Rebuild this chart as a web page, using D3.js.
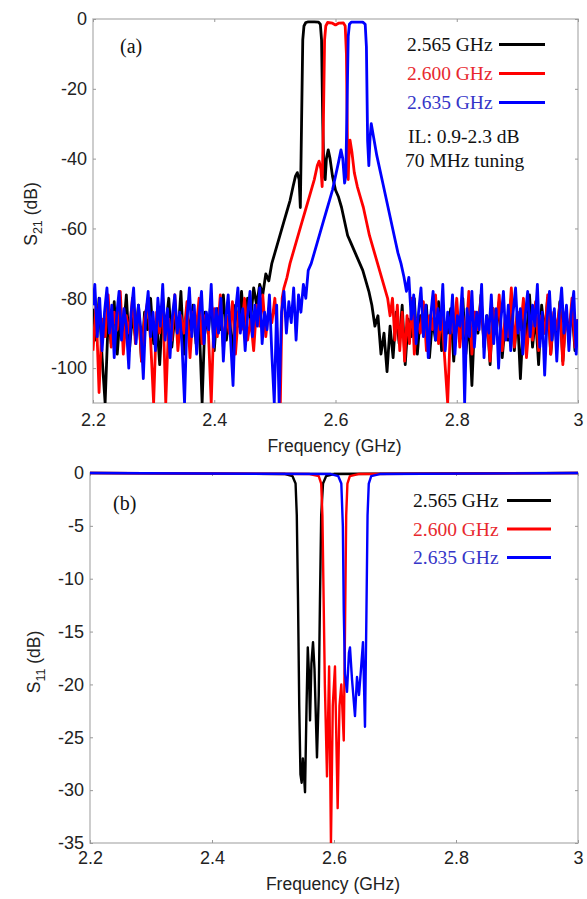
<!DOCTYPE html>
<html>
<head>
<meta charset="utf-8">
<script src="https://cdn.jsdelivr.net/npm/d3@7"></script>
<style>
  html, body { margin: 0; padding: 0; background: #fff; }
  svg { display: block; }
</style>
</head>
<body>
<svg id="chart" width="587" height="899"></svg>
<script>
// ---------------- DATA ----------------
const seriesNames = ["2.565 GHz", "2.600 GHz", "2.635 GHz"];
const xTicks = [2.2, 2.4, 2.6, 2.8, 3];
const xTickLabels = ["2.2", "2.4", "2.6", "2.8", "3"];
const yTicksS21 = [0, -20, -40, -60, -80, -100];
const yTicksS11 = [0, -5, -10, -15, -20, -25, -30, -35];
const legendNotes = ["IL: 0.9-2.3 dB", "70 MHz tuning"];

// S21 (dB) vs frequency (GHz)
const s21Black = [
[2.200,-83],[2.205,-92],[2.210,-80],[2.215,-97],[2.220,-110],[2.225,-86],[2.230,-93],[2.235,-81],[2.240,-96],[2.245,-84],
[2.250,-90],[2.255,-79],[2.260,-95],[2.265,-85],[2.270,-91],[2.275,-82],[2.280,-98],[2.285,-84],[2.290,-89],[2.295,-80],
[2.300,-93],[2.305,-86],[2.310,-99],[2.315,-83],[2.320,-88],[2.325,-80],[2.330,-94],[2.335,-85],[2.340,-91],[2.345,-78],
[2.350,-96],[2.355,-84],[2.360,-89],[2.365,-82],[2.370,-93],[2.375,-86],[2.380,-110],[2.385,-84],[2.390,-90],[2.395,-80],
[2.400,-95],[2.405,-83],[2.410,-89],[2.415,-79],[2.420,-92],[2.425,-84],[2.430,-97],[2.435,-82],[2.440,-88],[2.445,-78],
[2.450,-90],[2.455,-80],[2.460,-86],[2.465,-77],[2.470,-82],[2.475,-76],[2.480,-79],
[2.485,-73],[2.490,-75],[2.495,-70],[2.500,-67],[2.505,-64],[2.510,-61],[2.515,-58],[2.520,-55],[2.525,-52],[2.530,-48],
[2.534,-45],[2.537,-44],[2.540,-46],[2.542,-54],[2.544,-30],[2.546,-6],[2.548,-2],[2.551,-1],[2.555,-0.8],[2.565,-0.8],
[2.572,-0.9],[2.575,-1.5],[2.577,-6],[2.579,-30],[2.581,-45],[2.583,-46],[2.585,-40],[2.588,-37.5],[2.591,-40],[2.595,-45],
[2.600,-49],[2.605,-51],[2.610,-54],[2.615,-58],[2.620,-62],[2.625,-64],[2.630,-66],[2.635,-68],[2.640,-70],[2.645,-72],
[2.650,-75],[2.655,-78],[2.660,-82],[2.665,-88],[2.670,-85],[2.675,-96],[2.680,-90],[2.685,-101],[2.690,-88],[2.695,-97],
[2.700,-84],[2.705,-93],[2.710,-82],[2.715,-99],[2.720,-86],[2.725,-91],[2.730,-80],[2.735,-96],[2.740,-85],[2.745,-90],
[2.750,-82],[2.755,-97],[2.760,-86],[2.765,-92],[2.770,-81],[2.775,-95],[2.780,-87],[2.785,-90],[2.790,-83],[2.795,-98],
[2.800,-85],[2.805,-91],[2.810,-80],[2.815,-96],[2.820,-86],[2.825,-105],[2.830,-84],[2.835,-90],[2.840,-79],[2.845,-94],
[2.850,-85],[2.855,-99],[2.860,-83],[2.865,-90],[2.870,-81],[2.875,-97],[2.880,-87],[2.885,-92],[2.890,-80],[2.895,-95],
[2.900,-84],[2.905,-103],[2.910,-86],[2.915,-91],[2.920,-79],[2.925,-94],[2.930,-85],[2.935,-99],[2.940,-82],[2.945,-90],
[2.950,-80],[2.955,-96],[2.960,-86],[2.965,-92],[2.970,-81],[2.975,-98],[2.980,-84],[2.985,-90],[2.990,-83],[2.995,-95],
[3.000,-86]
];
const s21Red = [
[2.200,-95],[2.205,-82],[2.210,-107],[2.215,-86],[2.220,-91],[2.225,-79],[2.230,-94],[2.235,-84],[2.240,-89],[2.245,-78],
[2.250,-96],[2.255,-85],[2.260,-90],[2.265,-80],[2.270,-93],[2.275,-83],[2.280,-98],[2.285,-86],[2.290,-81],[2.295,-92],
[2.300,-110],[2.305,-84],[2.310,-90],[2.315,-80],[2.320,-110],[2.325,-86],[2.330,-92],[2.335,-79],[2.340,-95],[2.345,-85],
[2.350,-90],[2.355,-81],[2.360,-97],[2.365,-84],[2.370,-89],[2.375,-80],[2.380,-93],[2.385,-85],[2.390,-88],[2.395,-110],
[2.400,-83],[2.405,-91],[2.410,-79],[2.415,-94],[2.420,-85],[2.425,-90],[2.430,-81],[2.435,-96],[2.440,-84],[2.445,-89],
[2.450,-80],[2.455,-92],[2.460,-86],[2.465,-95],[2.470,-82],[2.475,-88],[2.480,-79],[2.485,-91],[2.490,-83],[2.495,-87],
[2.500,-80],[2.505,-94],[2.509,-110],[2.512,-80],
[2.515,-77],[2.520,-74],[2.525,-70],[2.530,-67],[2.535,-64],[2.540,-61],[2.545,-58],[2.550,-55],[2.555,-52],[2.560,-49],
[2.565,-46],[2.570,-42],[2.573,-40.7],[2.576,-43],[2.578,-48],[2.580,-30],[2.582,-6],[2.584,-2],[2.587,-1],[2.595,-1.2],
[2.600,-1.7],[2.605,-1.2],[2.613,-1.1],[2.616,-2],[2.618,-10],[2.620,-40],[2.621,-46],[2.622,-40],[2.624,-34.7],[2.627,-38],
[2.631,-44],[2.636,-48],[2.641,-51],[2.646,-54],[2.651,-58],[2.656,-62],[2.661,-65],[2.666,-68],[2.671,-71],[2.676,-74],
[2.681,-77],[2.686,-80],[2.690,-85],[2.694,-80],[2.698,-92],[2.702,-82],[2.706,-95],[2.710,-84],[2.714,-98],[2.718,-85],
[2.722,-93],[2.726,-80],[2.730,-96],[2.735,-86],[2.740,-90],
[2.745,-81],[2.750,-95],[2.755,-85],[2.760,-89],[2.765,-79],[2.770,-93],[2.775,-84],[2.780,-97],[2.785,-110],[2.790,-86],
[2.795,-90],[2.800,-80],[2.805,-94],[2.810,-85],[2.815,-91],[2.820,-78],[2.825,-96],[2.830,-84],[2.835,-89],[2.840,-80],
[2.845,-93],[2.850,-86],[2.855,-98],[2.860,-83],[2.865,-90],[2.870,-79],[2.875,-95],[2.880,-85],[2.885,-91],[2.890,-77],
[2.895,-94],[2.900,-84],[2.905,-89],[2.910,-80],[2.915,-97],[2.920,-86],[2.925,-92],[2.930,-81],[2.935,-95],[2.940,-85],
[2.945,-90],[2.950,-79],[2.955,-96],[2.960,-84],[2.965,-89],[2.970,-82],[2.975,-99],[2.980,-85],[2.985,-91],[2.990,-80],
[2.995,-94],[3.000,-86]
];
const s21Blue = [
[2.200,-82],[2.203,-76],[2.207,-91],[2.211,-80],[2.215,-95],[2.219,-84],[2.223,-77],[2.227,-90],[2.231,-82],[2.235,-97],
[2.239,-85],[2.243,-78],[2.247,-92],[2.251,-83],[2.255,-88],[2.259,-100],[2.263,-84],[2.267,-77],[2.271,-93],[2.275,-82],
[2.279,-89],[2.283,-103],[2.287,-85],[2.291,-78],[2.295,-91],[2.299,-84],[2.303,-95],[2.307,-80],[2.311,-88],[2.315,-76],
[2.319,-92],[2.323,-83],[2.327,-97],[2.331,-85],[2.335,-79],[2.339,-90],[2.343,-84],[2.347,-94],[2.351,-110],[2.355,-86],
[2.359,-77],[2.363,-91],[2.367,-82],[2.371,-96],[2.375,-85],[2.379,-78],[2.383,-93],[2.387,-84],[2.391,-89],[2.395,-76],
[2.399,-94],[2.403,-83],[2.407,-90],[2.411,-80],[2.415,-98],[2.419,-86],[2.423,-79],[2.427,-92],[2.431,-105],[2.435,-84],
[2.439,-77],[2.443,-90],[2.447,-83],[2.451,-95],[2.455,-85],[2.459,-78],[2.463,-91],[2.467,-82],[2.471,-88],[2.475,-77],
[2.479,-93],[2.483,-84],[2.487,-89],[2.491,-79],[2.495,-96],[2.499,-110],[2.503,-82],[2.507,-110],[2.511,-84],[2.515,-78],
[2.519,-90],[2.523,-81],[2.527,-87],[2.531,-77],[2.535,-92],[2.539,-79],[2.543,-84],[2.547,-76],[2.551,-80],
[2.555,-72],[2.560,-70],[2.565,-67],[2.570,-64],[2.575,-61],[2.580,-58],[2.585,-55],[2.590,-52],[2.595,-49],[2.600,-45],
[2.605,-41],[2.609,-37.5],[2.612,-40],[2.615,-47],[2.617,-45],[2.619,-25],[2.621,-5],[2.623,-1.5],[2.626,-0.9],[2.645,-0.9],
[2.649,-1.5],[2.651,-8],[2.653,-35],[2.655,-42],[2.657,-34],[2.659,-30],[2.663,-34],[2.668,-39],[2.673,-43],[2.678,-47],
[2.683,-51],[2.688,-55],[2.693,-59],[2.698,-63],[2.703,-67],[2.708,-70],[2.713,-74],[2.717,-78],[2.721,-74],[2.725,-86],
[2.729,-79],[2.733,-93],[2.737,-84],[2.741,-77],[2.745,-91],[2.749,-82],[2.753,-97],[2.757,-85],[2.761,-78],[2.765,-92],
[2.769,-83],[2.773,-89],[2.777,-76],[2.781,-95],[2.785,-84],[2.789,-90],[2.793,-79],[2.797,-96],[2.801,-85],[2.805,-88],
[2.809,-77],[2.813,-110],[2.817,-83],[2.821,-91],[2.825,-78],[2.829,-94],[2.833,-84],[2.837,-89],[2.841,-76],[2.845,-97],
[2.849,-85],[2.853,-90],[2.857,-79],[2.861,-93],[2.865,-83],[2.869,-100],[2.873,-86],[2.877,-78],[2.881,-92],[2.885,-82],
[2.889,-95],[2.893,-84],[2.897,-77],[2.901,-90],[2.905,-83],[2.909,-96],[2.913,-85],[2.917,-78],[2.921,-91],[2.925,-82],
[2.929,-88],[2.933,-76],[2.937,-94],[2.941,-84],[2.945,-102],[2.949,-86],[2.953,-78],[2.957,-92],[2.961,-83],[2.965,-98],
[2.969,-85],[2.973,-77],[2.977,-90],[2.981,-82],[2.985,-95],[2.989,-84],[2.993,-78],[2.997,-96],[3.000,-86]
];

// S11 (dB) vs frequency (GHz)
const s11Black = [
[2.2,0],[2.52,-0.1],[2.532,-0.3],[2.537,-1],[2.539,-4],[2.541,-12],[2.543,-22],[2.545,-28.5],[2.547,-29.3],[2.549,-27],
[2.5525,-30.2],[2.555,-22],[2.557,-16.5],[2.559,-19],[2.5607,-23.4],[2.563,-18],[2.5656,-16],[2.568,-18.5],[2.5721,-26.9],
[2.575,-21],[2.577,-12],[2.579,-4],[2.582,-1],[2.587,-0.3],[2.6,-0.1],[3.0,0]
];
const s11Red = [
[2.2,0],[2.56,-0.1],[2.575,-0.3],[2.579,-1],[2.581,-4],[2.583,-12],[2.585,-20],[2.5885,-28.7],[2.592,-18.3],[2.595,-35],
[2.598,-22],[2.6016,-18.3],[2.606,-31.7],[2.609,-22],[2.612,-20],[2.616,-25.3],[2.618,-15],[2.620,-4],[2.622,-1],
[2.626,-0.3],[2.64,-0.1],[3.0,0]
];
const s11Blue = [
[2.2,0],[2.595,-0.1],[2.607,-0.3],[2.612,-1],[2.6145,-5],[2.616,-13],[2.618,-19],[2.6213,-20.7],[2.6245,-17],[2.6262,-16.5],
[2.6295,-19.5],[2.6344,-23],[2.6377,-19.3],[2.641,-21],[2.6443,-18.5],[2.6475,-16],[2.6508,-24],[2.653,-14],[2.655,-4],
[2.657,-1],[2.661,-0.3],[2.675,-0.1],[3.0,0]
];

// ---------------- DRAWING ----------------
const lineColors = ["#000000", "#ff0000", "#0000ff"];
const textColors = ["#111111", "#e8282e", "#3535c8"];
const svg = d3.select("#chart");
const sansFont = "'Liberation Sans', Arial, Helvetica, sans-serif";
const serifFont = "'Liberation Serif', 'Times New Roman', serif";

function panel(cfg) {
  const x = d3.scaleLinear().domain([2.2, 3]).range([cfg.left, cfg.right]);
  const y = d3.scaleLinear().domain(cfg.yDomain).range([cfg.top, cfg.bottom]);
  const g = svg.append("g");
  const clipId = "clip" + cfg.id;
  svg.append("defs").append("clipPath").attr("id", clipId)
    .append("rect").attr("x", cfg.left).attr("y", cfg.top - 2)
    .attr("width", cfg.right - cfg.left).attr("height", cfg.bottom - cfg.top + 2);

  const axisColor = "#bdbdbd";
  g.append("rect").attr("x", cfg.left).attr("y", cfg.top)
    .attr("width", cfg.right - cfg.left).attr("height", cfg.bottom - cfg.top)
    .attr("fill", "none").attr("stroke", axisColor).attr("stroke-width", 1.5);

  const styleAxis = sel => {
    sel.select(".domain").remove();
    sel.selectAll(".tick line").attr("stroke", "#999").attr("stroke-width", 1);
    sel.selectAll(".tick text").attr("fill", "#222").attr("font-family", sansFont).attr("font-size", 18);
  };

  g.append("g").attr("transform", `translate(0,${cfg.bottom})`)
    .call(d3.axisBottom(x).tickValues(xTicks).tickFormat((d, i) => xTickLabels[i]).tickSizeInner(-3).tickSizeOuter(0).tickPadding(cfg.xPad))
    .call(styleAxis);
  g.append("g").attr("transform", `translate(0,${cfg.top})`)
    .call(d3.axisTop(x).tickValues(xTicks).tickFormat("").tickSizeInner(-3).tickSizeOuter(0))
    .call(styleAxis);
  g.append("g").attr("transform", `translate(${cfg.left},0)`)
    .call(d3.axisLeft(y).tickValues(cfg.yTicks).tickFormat(d => String(d)).tickSizeInner(-3).tickSizeOuter(0).tickPadding(6))
    .call(styleAxis);
  g.append("g").attr("transform", `translate(${cfg.right},0)`)
    .call(d3.axisRight(y).tickValues(cfg.yTicks).tickFormat("").tickSizeInner(-3).tickSizeOuter(0))
    .call(styleAxis);

  const line = d3.line().x(d => x(d[0])).y(d => y(d[1]));
  const lg = g.append("g").attr("clip-path", `url(#${clipId})`);
  cfg.series.forEach((s, i) => {
    lg.append("path").datum(s).attr("d", line)
      .attr("fill", "none").attr("stroke", lineColors[i])
      .attr("stroke-width", cfg.lw).attr("stroke-linejoin", "round");
  });

  g.append("text").attr("x", (cfg.left + cfg.right) / 2 - 1).attr("y", cfg.xTitleY)
    .attr("text-anchor", "middle").attr("font-family", sansFont).attr("font-size", 17.5)
    .attr("fill", "#222").text("Frequency (GHz)");

  const yt = g.append("text")
    .attr("transform", `translate(${cfg.yTitleX},${cfg.yTitleY}) rotate(-90)`)
    .attr("text-anchor", "middle").attr("font-family", sansFont).attr("font-size", 17.5).attr("fill", "#222");
  yt.append("tspan").text("S");
  yt.append("tspan").attr("font-size", 12.5).attr("dy", 5).text(cfg.sub);
  yt.append("tspan").attr("dy", -5).text(" (dB)");

  g.append("text").attr("x", cfg.letterX).attr("y", cfg.letterY)
    .attr("font-family", serifFont).attr("font-size", 20).attr("fill", "#111").text(cfg.letter);

  seriesNames.forEach((name, i) => {
    const yy = cfg.legY + i * cfg.legStep;
    g.append("text").attr("x", cfg.legX).attr("y", yy)
      .attr("font-family", serifFont).attr("font-size", 19.5).attr("fill", textColors[i]).text(name);
    g.append("line").attr("x1", cfg.legLineX1).attr("x2", cfg.legLineX2)
      .attr("y1", yy - 6.5).attr("y2", yy - 6.5)
      .attr("stroke", lineColors[i]).attr("stroke-width", 3);
  });
  return g;
}

const gTop = panel({
  id: "a", left: 93, right: 578, top: 19, bottom: 403, yDomain: [0, -110], yTicks: yTicksS21,
  xPad: 10, xTitleY: 452, yTitleX: 37, yTitleY: 214, sub: "21", lw: 2.8,
  series: [s21Black, s21Red, s21Blue], letter: "(a)", letterX: 120, letterY: 53,
  legX: 407, legY: 51, legStep: 29, legLineX1: 499, legLineX2: 545
});
legendNotes.forEach((t, i) => {
  gTop.append("text").attr("x", i === 0 ? 408 : 405).attr("y", 143 + i * 24)
    .attr("font-family", serifFont).attr("font-size", 19.5).attr("fill", "#111").text(t);
});

panel({
  id: "b", left: 90, right: 578, top: 473, bottom: 843, yDomain: [0, -35], yTicks: yTicksS11,
  xPad: 8, xTitleY: 890, yTitleX: 40, yTitleY: 662, sub: "11", lw: 2.4,
  series: [s11Black, s11Red, s11Blue], letter: "(b)", letterX: 113, letterY: 510,
  legX: 413, legY: 507, legStep: 28.5, legLineX1: 507, legLineX2: 551
});
</script>
</body>
</html>
